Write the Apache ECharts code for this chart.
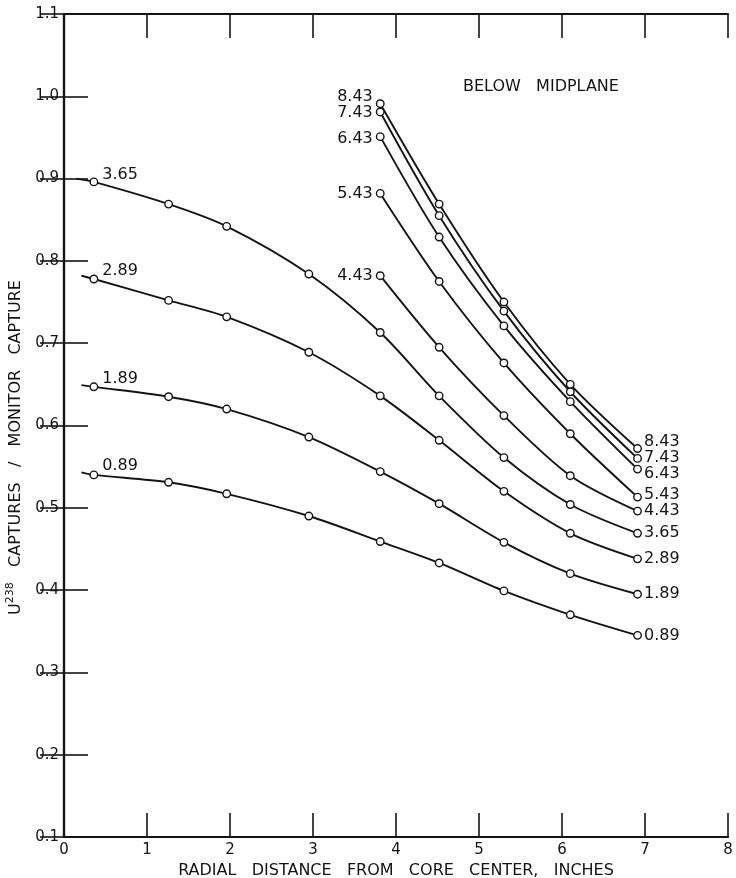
<!DOCTYPE html>
<html>
<head>
<meta charset="utf-8">
<script src="https://cdn.jsdelivr.net/npm/echarts@6/dist/echarts.min.js"></script>
<style>
html, body { margin: 0; padding: 0; background: #fff; }
#chart { width: 736px; height: 878px; }
</style>
</head>
<body>
<div id="chart"></div>
<script>
// radial positions of the measuring points (inches)
var xLower = [0.36, 1.26, 1.96, 2.95, 3.81, 4.52, 5.30, 6.10, 6.91];
var xUpper = [3.81, 4.52, 5.30, 6.10, 6.91];

// captures ratio, one array per curve (curve label = height)
var y089 = [0.540, 0.531, 0.517, 0.490, 0.459, 0.433, 0.399, 0.370, 0.345];
var y189 = [0.647, 0.635, 0.620, 0.586, 0.544, 0.505, 0.458, 0.420, 0.395];
var y289 = [0.778, 0.752, 0.732, 0.689, 0.636, 0.582, 0.520, 0.469, 0.438];
var y365 = [0.896, 0.869, 0.842, 0.784, 0.713, 0.636, 0.561, 0.504, 0.469];
var y443 = [0.782, 0.695, 0.612, 0.539, 0.496];
var y543 = [0.882, 0.775, 0.676, 0.590, 0.513];
var y643 = [0.951, 0.829, 0.721, 0.629, 0.547];
var y743 = [0.981, 0.855, 0.739, 0.641, 0.560];
var y843 = [0.991, 0.869, 0.750, 0.650, 0.572];

// short lead-in of the drawn curve left of the first point
var stubX = [0.21, 0.21, 0.21, 0.15];
var stubY = [0.543, 0.649, 0.782, 0.900];

var xTicks = [0, 1, 2, 3, 4, 5, 6, 7, 8];

var ink = "#141414";
var font = "DejaVu Sans";

// label placement per curve (start label / end label)
var startLab = {
  "0.89": { position: "right", distance: 4, offset: [0, -9] },
  "1.89": { position: "right", distance: 4, offset: [0, -8] },
  "2.89": { position: "right", distance: 4, offset: [0, -8] },
  "3.65": { position: "right", distance: 4, offset: [0, -7] },
  "4.43": { position: "left", distance: 3, offset: [0, 0] },
  "5.43": { position: "left", distance: 3, offset: [0, 0] },
  "6.43": { position: "left", distance: 3, offset: [0, 2] },
  "7.43": { position: "left", distance: 3, offset: [0, 1] },
  "8.43": { position: "left", distance: 3, offset: [0, -7] }
};
var endOffset = {
  "0.89": 0, "1.89": 0, "2.89": 0, "3.65": 0, "4.43": 0,
  "5.43": -2, "6.43": 5, "7.43": -1, "8.43": -7
};

function makeSeries(name, xs, ys, sx, sy) {
  var data = [];
  if (sx !== undefined) {
    data.push({ value: [sx, sy], symbol: "none" });
  }
  xs.forEach(function (x, i) {
    var item = { value: [x, ys[i]] };
    if (i === 0) {
      item.label = Object.assign({ show: true }, startLab[name]);
    }
    if (i === xs.length - 1) {
      item.label = { show: true, position: "right", distance: 2, offset: [0, endOffset[name]] };
    }
    data.push(item);
  });
  return {
    name: name,
    type: "line",
    smooth: 0.3,
    symbol: "circle",
    symbolSize: 7.5,
    showAllSymbol: true,
    itemStyle: { color: "#fff", borderColor: ink, borderWidth: 1.4 },
    lineStyle: { color: ink, width: 1.9 },
    label: {
      show: false,
      formatter: name,
      color: ink,
      fontFamily: font,
      fontSize: 16
    },
    emphasis: { disabled: true },
    data: data
  };
}

var series = [
  makeSeries("0.89", xLower, y089, stubX[0], stubY[0]),
  makeSeries("1.89", xLower, y189, stubX[1], stubY[1]),
  makeSeries("2.89", xLower, y289, stubX[2], stubY[2]),
  makeSeries("3.65", xLower, y365, stubX[3], stubY[3]),
  makeSeries("4.43", xUpper, y443),
  makeSeries("5.43", xUpper, y543),
  makeSeries("6.43", xUpper, y643),
  makeSeries("7.43", xUpper, y743),
  makeSeries("8.43", xUpper, y843)
];

var frameLine = { show: true, lineStyle: { color: ink, width: 2.2 } };
var frameTick = { show: true, inside: true, length: 24, lineStyle: { color: ink, width: 1.6 } };

var chart = echarts.init(document.getElementById("chart"));
chart.setOption({
  animation: false,
  backgroundColor: "#fff",
  title: {
    text: "BELOW   MIDPLANE",
    left: 463,
    top: 79,
    padding: 0,
    textStyle: { color: ink, fontFamily: font, fontSize: 16, fontWeight: "normal" }
  },
  grid: { left: 64, right: 8, top: 14, bottom: 41, containLabel: false, outerBoundsMode: "none" },
  xAxis: [
    {
      type: "value",
      position: "bottom",
      min: xTicks[0],
      max: xTicks[xTicks.length - 1],
      interval: 1,
      axisLine: frameLine,
      axisTick: frameTick,
      splitLine: { show: false },
      axisLabel: { margin: 6, color: ink, fontFamily: font, fontSize: 15 },
      name: "RADIAL   DISTANCE   FROM   CORE   CENTER,   INCHES",
      nameLocation: "middle",
      nameGap: 24,
      nameTextStyle: { color: ink, fontFamily: font, fontSize: 16 }
    },
    {
      type: "value",
      position: "top",
      min: xTicks[0],
      max: xTicks[xTicks.length - 1],
      interval: 1,
      axisLine: frameLine,
      axisTick: frameTick,
      splitLine: { show: false },
      axisLabel: { show: false }
    }
  ],
  yAxis: [
    {
      type: "value",
      position: "left",
      min: 0.1,
      max: 1.1,
      interval: 0.1,
      axisLine: frameLine,
      axisTick: frameTick,
      splitLine: { show: false },
      axisLabel: {
        margin: 5,
        color: ink,
        fontFamily: font,
        fontSize: 15,
        formatter: function (v) { return v.toFixed(1); }
      },
      name: "{a|U}{s|238}{a|   CAPTURES   /   MONITOR   CAPTURE}",
      nameLocation: "middle",
      nameRotate: 90,
      nameGap: 24,
      nameTextStyle: {
        color: ink,
        fontFamily: font,
        fontSize: 16,
        padding: [0, 44, 0, 0],
        rich: {
          a: { color: ink, fontFamily: font, fontSize: 16, lineHeight: 24, verticalAlign: "middle" },
          s: { color: ink, fontFamily: font, fontSize: 11, lineHeight: 24, verticalAlign: "top" }
        }
      }
    },
    {
      type: "value",
      position: "right",
      min: 0.1,
      max: 1.1,
      interval: 0.1,
      axisLine: frameLine,
      axisTick: frameTick,
      splitLine: { show: false },
      axisLabel: { show: false }
    }
  ],
  series: series
});
</script>
</body>
</html>
